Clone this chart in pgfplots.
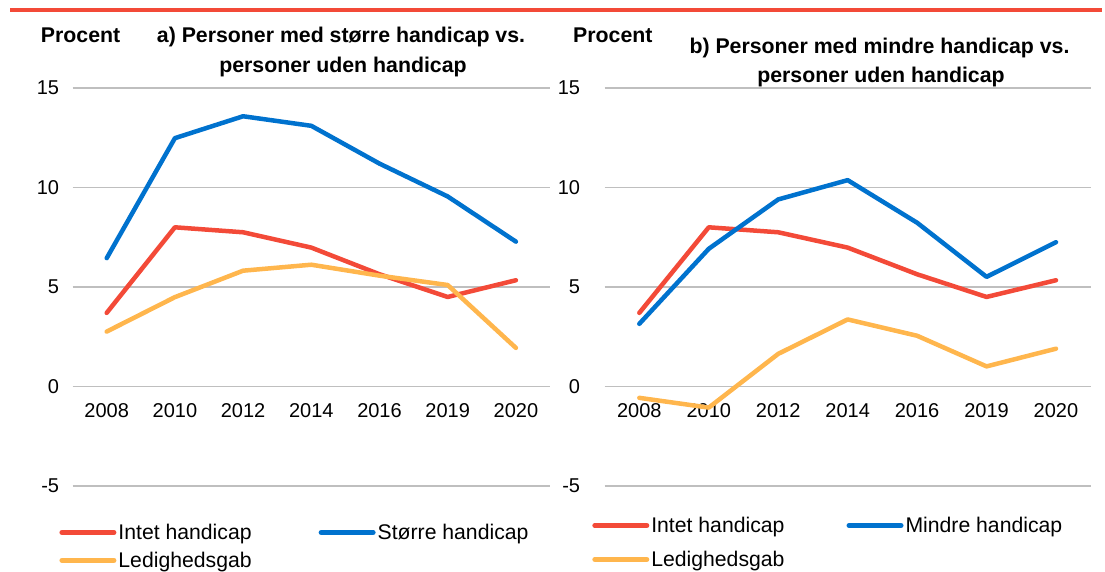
\documentclass[border=0pt]{standalone}
\usepackage{fontspec}
\setmainfont{Liberation Sans}
\usepackage{pgfplots}
\pgfplotsset{compat=1.18}
\definecolor{cred}{RGB}{243,74,56}
\definecolor{cblue}{RGB}{0,114,206}
\definecolor{cyel}{RGB}{255,182,77}
\definecolor{cgrid}{RGB}{191,191,191}
\newcommand{\tfont}{\fontsize{20}{24}\selectfont}
\newcommand{\lfont}{\fontsize{21.2}{25}\selectfont}
\newcommand{\hfont}{\fontsize{21.3}{25}\selectfont\bfseries}

\pgfplotsset{
 panel/.style={
  scale only axis, height=398pt,
  xmin=-0.5, xmax=6.5, ymin=-5, ymax=15,
  axis x line=middle, axis y line=left,
  hide obscured x ticks=false, hide obscured y ticks=false,
  x axis line style={draw=none,-}, y axis line style={draw=none,-},
  xtick={0,1,2,3,4,5,6}, xticklabels={2008,2010,2012,2014,2016,2019,2020},
  ytick={-5,0,5,10,15}, yticklabels={-5,0,5,10,15},
  major tick length=0pt, tick style={draw=none},
  ymajorgrids, grid style={cgrid, line width=1.5pt},
  ticklabel style={font=\tfont},
  xticklabel style={yshift=-13pt},
  yticklabel style={xshift=-10pt},
  clip=false,
  legend columns=2,
  legend cell align=left,
  legend image code/.code={\draw[#1,line width=5pt,line cap=round] (0pt,0pt) -- (52pt,0pt);},
  every axis plot/.append style={line width=4.5pt, line cap=round, line join=round, mark=none},
 }
}

\begin{document}
\begin{tikzpicture}
\path[use as bounding box] (0,0) rectangle (1105pt,571pt);
\draw[cred, line width=4pt] (10pt,561pt) -- (1102pt,561pt);

\node[anchor=base west, font=\hfont, inner sep=0pt] at (40.7pt,528.3pt) {Procent};
\node[anchor=base, font=\hfont, inner sep=0pt] at (341pt,528pt) {a) Personer med større handicap vs.};
\node[anchor=base, font=\hfont, inner sep=0pt] at (343pt,498.5pt) {personer uden handicap};

\node[anchor=base west, font=\hfont, inner sep=0pt] at (573pt,528.3pt) {Procent};
\node[anchor=base, font=\hfont, inner sep=0pt] at (879.5pt,517pt) {b) Personer med mindre handicap vs.};
\node[anchor=base, font=\hfont, inner sep=0pt] at (881pt,488pt) {personer uden handicap};

\begin{axis}[panel, width=477.4pt, at={(72.6pt,85pt)}, anchor=south west,
  legend style={draw=none, fill=none, inner sep=0pt, font=\lfont,
    at={(-0.028,-0.0900)}, anchor=north west, row sep=7pt,
    /tikz/every even column/.append style={column sep=65pt}}]
\addplot[cred] coordinates {(0,3.70) (1,8.00) (2,7.75) (3,6.98) (4,5.64) (5,4.50) (6,5.34)};
\addlegendentry{Intet handicap}
\addplot[cblue] coordinates {(0,6.45) (1,12.48) (2,13.58) (3,13.10) (4,11.20) (5,9.55) (6,7.28)};
\addlegendentry{Større handicap}
\addplot[cyel] coordinates {(0,2.76) (1,4.49) (2,5.82) (3,6.12) (4,5.57) (5,5.10) (6,1.94)};
\addlegendentry{Ledighedsgab}
\end{axis}

\begin{axis}[panel, width=486.1pt, at={(604.6pt,85pt)}, anchor=south west,
  yticklabel style={xshift=-11pt},
  legend style={draw=none, fill=none, inner sep=0pt, font=\lfont,
    at={(-0.0257,-0.0726)}, anchor=north west, row sep=13pt,
    /tikz/every even column/.append style={column sep=60pt}}]
\addplot[cred] coordinates {(0,3.70) (1,8.00) (2,7.75) (3,6.98) (4,5.64) (5,4.50) (6,5.34)};
\addlegendentry{Intet handicap}
\addplot[cblue] coordinates {(0,3.15) (1,6.92) (2,9.40) (3,10.37) (4,8.23) (5,5.51) (6,7.25)};
\addlegendentry{Mindre handicap}
\addplot[cyel] coordinates {(0,-0.57) (1,-1.06) (2,1.64) (3,3.37) (4,2.55) (5,1.01) (6,1.90)};
\addlegendentry{Ledighedsgab}
\end{axis}
\end{tikzpicture}
\end{document}
